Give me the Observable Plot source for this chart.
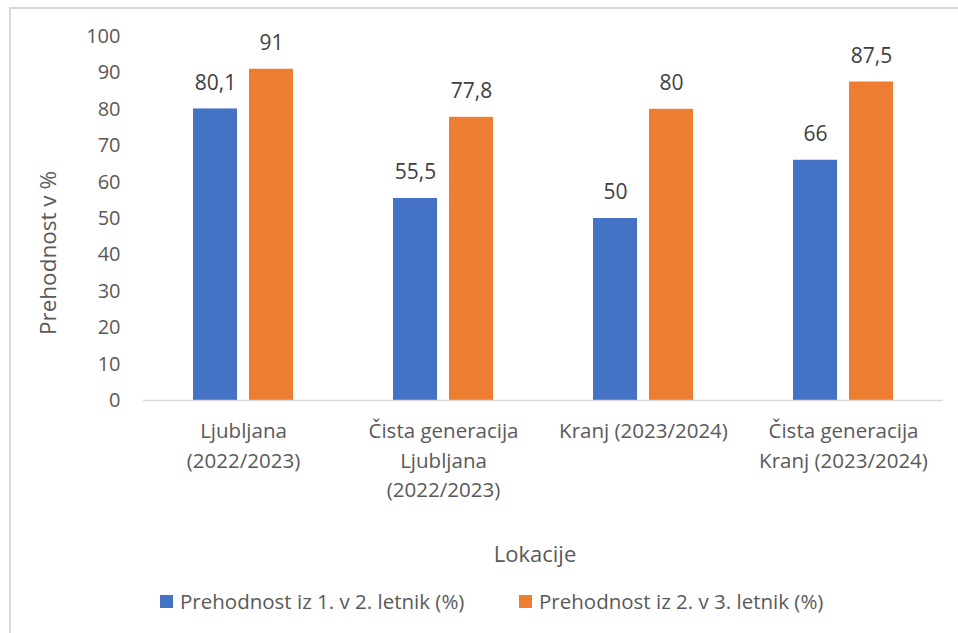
<!DOCTYPE html>
<html><head><meta charset="utf-8">
<script src="https://cdn.jsdelivr.net/npm/d3@7"></script>
<script src="https://cdn.jsdelivr.net/npm/@observablehq/plot@0.6"></script>
<style>
body{margin:0;background:#fff;font-family:"Open Sans",sans-serif;color:#595959;}
#wrap{position:relative;width:958px;height:633px;overflow:hidden;}
#frame{position:absolute;left:9px;top:7px;width:960px;height:640px;border:2px solid #d9d9d9;box-sizing:border-box;}
#chart{position:absolute;left:0;top:0;}
#ylab{position:absolute;left:47px;top:253px;transform:translate(-50%,-50%) rotate(-90deg);font-size:22.5px;font-weight:400;white-space:nowrap;}
#xlab{position:absolute;left:535px;top:553px;transform:translate(-50%,-50%);font-size:22px;font-weight:400;}
#legend{position:absolute;top:587px;left:0;font-size:20.5px;font-weight:400;white-space:nowrap;}
.li{position:absolute;top:0;display:flex;align-items:center;gap:7px;}
.sw{width:13px;height:13px;display:inline-block;}
</style></head>
<body><div id="wrap"><div id="frame"></div><div id="chart"></div>
<div id="ylab">Prehodnost v %</div><div id="xlab">Lokacije</div><div id="legend"></div></div>
<script>
const categories = ["Ljubljana\n(2022/2023)", "Čista generacija\nLjubljana\n(2022/2023)", "Kranj (2023/2024)", "Čista generacija\nKranj (2023/2024)"];
const seriesNames = ["Prehodnost iz 1. v 2. letnik (%)", "Prehodnost iz 2. v 3. letnik (%)"];
const series1 = [80.1, 55.5, 50, 66];
const series2 = [91, 77.8, 80, 87.5];
const colors = ["#4472C4", "#ED7D31"];
const yTicks = [0,10,20,30,40,50,60,70,80,90,100];

const data = [];
categories.forEach((c,i)=>{
  data.push({cat:c, s:seriesNames[0], v:series1[i]});
  data.push({cat:c, s:seriesNames[1], v:series2[i]});
});
const fmt = v => String(v).replace(".", ",");

const chart = Plot.plot({
  width: 958, height: 520,
  marginTop: 36, marginBottom: 120, marginLeft: 143, marginRight: 15,
  style: {fontFamily: "Open Sans, sans-serif", fontSize: "20px", color: "#595959", fontWeight: 400},
  fx: {domain: categories, paddingInner: 0, paddingOuter: 0, label: null},
  x: {domain: seriesNames, paddingInner: 0.2105, paddingOuter: 0.86, axis: null},
  y: {domain: [0, 100], axis: null},
  color: {domain: seriesNames, range: colors},
  marks: [
    Plot.axisY({ticks: yTicks, tickSize: 0, tickPadding: 23, label: null, fontSize: 20}),
    Plot.axisFx({anchor: "bottom", tickSize: 0, tickPadding: 17, label: null, fontSize: 20.5, lineHeight: 1.43, lineAnchor: "top"}),
    Plot.barY(data, {fx: "cat", x: "s", y: "v", fill: "s"}),
    Plot.ruleY([0], {stroke: "#d9d9d9", strokeWidth: 1.3}),
    Plot.text(data, {fx: "cat", x: "s", y: "v", text: d => fmt(d.v), dy: -26, fontSize: 21, fill: "#404040", lineAnchor: "middle"})
  ]
});
document.getElementById("chart").appendChild(chart);

const lg = document.getElementById("legend");
const lx = [160, 519];
seriesNames.forEach((n,i)=>{
  const d = document.createElement("div");
  d.className = "li"; d.style.left = lx[i] + "px";
  d.innerHTML = `<span class="sw" style="background:${colors[i]}"></span><span>${n}</span>`;
  lg.appendChild(d);
});
</script></body></html>
